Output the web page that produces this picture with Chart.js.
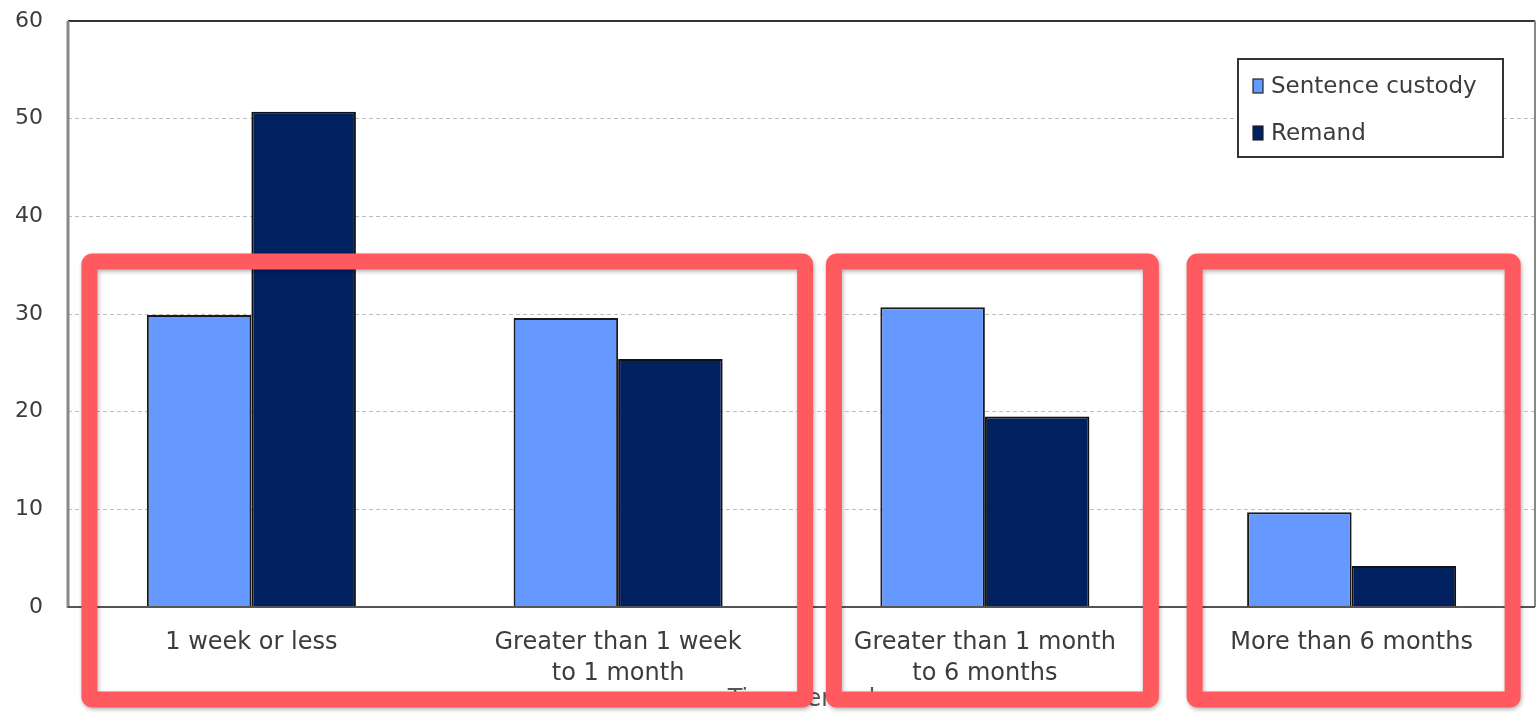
<!DOCTYPE html>
<html>
<head>
<meta charset="utf-8">
<script src="https://cdn.jsdelivr.net/npm/chart.js@4.4.1/dist/chart.umd.min.js"></script>
<style>
  html, body { margin: 0; padding: 0; background: #ffffff; }
  #wrap { width: 1538px; height: 714px; position: relative; }
</style>
</head>
<body>
<div id="wrap"><canvas id="c" width="1538" height="714"></canvas></div>
<script>
// ---- data ----
const categories = [
  ['1 week or less'],
  ['Greater than 1 week', 'to 1 month'],
  ['Greater than 1 month', 'to 6 months'],
  ['More than 6 months']
];
const seriesNames = ['Sentence custody', 'Remand'];
const sentenceCustody = [29.9, 29.6, 30.7, 9.7];
const remand = [50.7, 25.4, 19.5, 4.2];
const yTicks = [0, 10, 20, 30, 40, 50, 60];
const xTitle = 'Time served';

// ---- styling ----
const FONT = '"DejaVu Sans", Verdana, sans-serif';
const TEXT = '#3c3c3c';
const colors = ['#6699FF', '#002060'];

// annotation boxes (highlight overlays), given as category index ranges + offsets
const highlightBoxes = [
  { from: 0, to: 1, left: -162, right: 187 },
  { from: 2, to: 2, left: -151, right: 166 },
  { from: 3, to: 3, left: -157, right: 161 }
];

const framePlugin = {
  id: 'frame',
  afterDatasetsDraw(chart) {
    const { ctx, chartArea: a } = chart;
    ctx.save();
    ctx.strokeStyle = '#333333';
    ctx.lineWidth = 2;
    ctx.beginPath(); ctx.moveTo(a.left, a.top); ctx.lineTo(a.right, a.top); ctx.stroke();
    ctx.strokeStyle = '#888888';
    ctx.lineWidth = 3;
    ctx.beginPath(); ctx.moveTo(a.left, a.top); ctx.lineTo(a.left, a.bottom + 1); ctx.stroke();
    ctx.lineWidth = 2;
    ctx.beginPath(); ctx.moveTo(a.right, a.top); ctx.lineTo(a.right, a.bottom); ctx.stroke();
    ctx.strokeStyle = '#555555';
    ctx.lineWidth = 2;
    ctx.beginPath(); ctx.moveTo(a.left, a.bottom); ctx.lineTo(a.right, a.bottom); ctx.stroke();
    ctx.restore();
  },
  afterDraw(chart) {
    const { ctx, chartArea: a } = chart;
    ctx.save();
    const lx = a.right - 297, ly = a.top + 38, lw = 265, lh = 98;
    ctx.fillStyle = '#ffffff';
    ctx.fillRect(lx, ly, lw, lh);
    ctx.strokeStyle = '#333333';
    ctx.lineWidth = 2;
    ctx.strokeRect(lx, ly, lw, lh);
    ctx.font = '23px ' + FONT;
    ctx.textBaseline = 'middle';
    chart.data.datasets.forEach((ds, i) => {
      const cy = ly + 27 + i * 47;
      ctx.fillStyle = ds.backgroundColor;
      ctx.fillRect(lx + 15, cy - 7, 10, 14);
      ctx.strokeStyle = '#222';
      ctx.lineWidth = 1.2;
      ctx.strokeRect(lx + 15, cy - 7, 10, 14);
      ctx.fillStyle = TEXT;
      ctx.fillText(ds.label, lx + 33, cy + 1);
    });
    ctx.restore();

    const xs = chart.scales.x;
    ctx.save();
    ctx.strokeStyle = '#FF5A5F';
    ctx.lineWidth = 16;
    ctx.lineJoin = 'round';
    ctx.shadowColor = 'rgba(0,0,0,0.3)';
    ctx.shadowBlur = 4;
    ctx.shadowOffsetX = 1;
    ctx.shadowOffsetY = 2;
    const top = a.top + 240.5, bottom = a.bottom + 92.5;
    highlightBoxes.forEach(b => {
      const x0 = xs.getPixelForValue(b.from) + b.left;
      const x1 = xs.getPixelForValue(b.to) + b.right;
      ctx.beginPath();
      ctx.roundRect(x0, top, x1 - x0, bottom - top, 3);
      ctx.stroke();
    });
    ctx.restore();
  }
};

new Chart(document.getElementById('c'), {
  type: 'bar',
  data: {
    labels: categories,
    datasets: [
      { label: seriesNames[0], data: sentenceCustody, backgroundColor: colors[0], borderColor: '#1a1a1a', borderWidth: 2 },
      { label: seriesNames[1], data: remand, backgroundColor: colors[1], borderColor: '#111111', borderWidth: 2 }
    ]
  },
  options: {
    responsive: false,
    animation: false,
    devicePixelRatio: 1,
    layout: { padding: { top: 21, right: 3, left: 0, bottom: 0 } },
    datasets: { bar: { barPercentage: 1.0, categoryPercentage: 0.57 } },
    plugins: { legend: { display: false }, tooltip: { enabled: false } },
    scales: {
      x: {
        grid: { display: false },
        border: { display: false },
        ticks: { color: TEXT, font: { family: FONT, size: 24, lineHeight: 1.27 }, padding: 13, maxRotation: 0, autoSkip: false },
        title: { display: true, text: xTitle, color: '#555555', font: { family: FONT, size: 24 }, padding: { top: 0, bottom: 0 } },
        afterFit(scale) { scale.height = 107; }
      },
      y: {
        min: 0, max: 60,
        afterBuildTicks(scale) { scale.ticks = yTicks.map(v => ({ value: v })); },
        grid: { color: '#bdbdbd', lineWidth: 1, drawTicks: false },
        border: { display: false, dash: [4, 3] },
        ticks: { color: TEXT, font: { family: FONT, size: 22 }, padding: 25 },
        afterFit(scale) { scale.width = 68; scale.paddingTop = 0; scale.paddingBottom = 0; }
      }
    }
  },
  plugins: [framePlugin]
});
</script>
</body>
</html>
